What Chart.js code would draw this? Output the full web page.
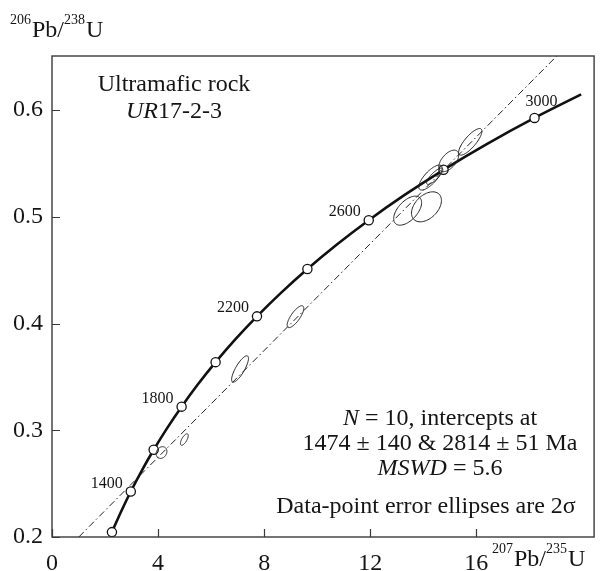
<!DOCTYPE html>
<html>
<head>
<meta charset="utf-8">
<script src="https://cdn.jsdelivr.net/npm/chart.js@4/dist/chart.umd.min.js"></script>
<style>
  html, body { margin: 0; padding: 0; background: #fff; }
  #wrap { width: 600px; height: 571px; position: relative; }
</style>
</head>
<body>
<div id="wrap"><canvas id="c"></canvas></div>
<script>
// ---- Data ----
// Concordia curve (207Pb/235U, 206Pb/238U), 1200 - ~3090 Ma in 100 Ma steps
const concordiaX = [2.260, 2.598, 2.970, 3.381, 3.834, 4.335, 4.887, 5.496, 6.169, 6.910, 7.729, 8.633, 9.630, 10.730, 11.943, 13.283, 14.762, 16.393, 18.194, 19.950];
const concordiaY = [0.2046, 0.2234, 0.2426, 0.2620, 0.2817, 0.3018, 0.3221, 0.3428, 0.3638, 0.3851, 0.4067, 0.4287, 0.4511, 0.4738, 0.4968, 0.5202, 0.5440, 0.5681, 0.5926, 0.6146];
// Age markers on the concordia (every 200 Ma, 1200 - 3000 Ma)
const markerAges = [1200, 1400, 1600, 1800, 2000, 2200, 2400, 2600, 2800, 3000];
const markerX = [2.260, 2.970, 3.834, 4.887, 6.169, 7.729, 9.630, 11.943, 14.762, 18.194];
const markerY = [0.2046, 0.2426, 0.2817, 0.3221, 0.3638, 0.4067, 0.4511, 0.4968, 0.5440, 0.5926];
const labeledAges = ['1400', '1800', '2200', '2600', '3000'];
// Discordia line end points
const discordiaX = [1.01, 19.03];
const discordiaY = [0.200, 0.6505];
// Data-point error ellipses: centre, 2-sigma half widths and error correlation
const ellX   = [4.13, 4.99, 7.09, 9.18, 13.41, 14.12, 14.27, 14.43, 14.96, 15.77];
const ellY   = [0.2791, 0.2913, 0.3574, 0.4064, 0.5057, 0.5093, 0.5367, 0.5380, 0.5523, 0.5702];
const ellSX  = [0.203, 0.147, 0.318, 0.313, 0.527, 0.564, 0.440, 0.307, 0.376, 0.440];
const ellSY  = [0.0055, 0.0054, 0.01235, 0.01027, 0.0136, 0.01406, 0.0117, 0.00765, 0.0101, 0.01247];
const ellRho = [0.20, 0.69, 0.80, 0.77, 0.55, 0.42, 0.75, 0.82, 0.55, 0.80];
// Axis ticks
const xTicks = [0, 4, 8, 12, 16];
const yTicks = [0.2, 0.3, 0.4, 0.5, 0.6];
const xLimits = [0, 20.44];
const yLimits = [0.2, 0.6506];

const SERIF = '"Liberation Serif", "Times New Roman", serif';
const INK = '#151515';

function pts(xs, ys) { return xs.map((x, i) => ({ x: x, y: ys[i] })); }

function drawRich(ctx, segs, cx, y, size, align) {
  let total = 0;
  segs.forEach(s => {
    ctx.font = (s.italic ? 'italic ' : '') + size + 'px ' + SERIF;
    s.w = ctx.measureText(s.t).width; total += s.w;
  });
  let x = align === 'left' ? cx : cx - total / 2;
  segs.forEach(s => {
    ctx.font = (s.italic ? 'italic ' : '') + size + 'px ' + SERIF;
    ctx.fillText(s.t, x, y); x += s.w;
  });
}

function drawIsotope(ctx, parts, x, y) {
  // parts: [sup, main, sup, main]
  let cx = x;
  parts.forEach(p => {
    ctx.font = p.sup ? ('14px ' + SERIF) : ('24px ' + SERIF);
    ctx.fillText(p.t, cx, p.sup ? y - 13 : y);
    cx += ctx.measureText(p.t).width + (p.sup ? 1 : 0);
  });
}

const decorPlugin = {
  id: 'decor',
  afterDatasetsDraw(chart) {
    const ctx = chart.ctx, xs = chart.scales.x, ys = chart.scales.y;
    const a = chart.chartArea;
    ctx.save();
    // error ellipses
    ctx.strokeStyle = '#222';
    ctx.lineWidth = 1;
    for (let i = 0; i < ellX.length; i++) {
      const r = ellRho[i], q = Math.sqrt(1 - r * r);
      ctx.beginPath();
      for (let k = 0; k <= 72; k++) {
        const t = k / 72 * Math.PI * 2;
        const dx = ellSX[i] * Math.cos(t);
        const dy = ellSY[i] * (r * Math.cos(t) + q * Math.sin(t));
        const px = xs.getPixelForValue(ellX[i] + dx);
        const py = ys.getPixelForValue(ellY[i] + dy);
        if (k === 0) ctx.moveTo(px, py); else ctx.lineTo(px, py);
      }
      ctx.closePath();
      ctx.stroke();
    }
    ctx.restore();
  },
  afterDraw(chart) {
    const ctx = chart.ctx, xs = chart.scales.x, ys = chart.scales.y;
    const a = chart.chartArea;
    ctx.save();
    // frame
    ctx.strokeStyle = '#3a3a3a';
    ctx.lineWidth = 1.4;
    ctx.strokeRect(a.left, a.top, a.right - a.left, a.bottom - a.top);
    // inner ticks
    ctx.beginPath();
    xTicks.forEach(v => {
      const px = Math.round(xs.getPixelForValue(v)) + 0.5;
      ctx.moveTo(px, a.bottom); ctx.lineTo(px, a.bottom - 8);
    });
    yTicks.forEach(v => {
      const py = Math.round(ys.getPixelForValue(v)) + 0.5;
      ctx.moveTo(a.left, py); ctx.lineTo(a.left + 8, py);
    });
    ctx.lineWidth = 1.2;
    ctx.stroke();

    ctx.fillStyle = INK;
    ctx.textBaseline = 'alphabetic';
    // age labels
    ctx.font = '16px ' + SERIF;
    ctx.textAlign = 'center';
    labeledAges.forEach(lbl => {
      const i = markerAges.indexOf(Number(lbl));
      const px = xs.getPixelForValue(markerX[i]);
      const py = ys.getPixelForValue(markerY[i]);
      if (lbl === '3000') ctx.fillText(lbl, px + 7, py - 12);
      else ctx.fillText(lbl, px - 24, py - 4);
    });
    ctx.textAlign = 'left';
    // sample title
    drawRich(ctx, [{ t: 'Ultramafic rock' }], 174, 91, 24);
    drawRich(ctx, [{ t: 'UR', italic: true }, { t: '17-2-3' }], 174, 118, 24);
    // statistics
    drawRich(ctx, [{ t: 'N', italic: true }, { t: ' = 10, intercepts at' }], 440, 425, 24);
    drawRich(ctx, [{ t: '1474 \u00B1 140 & 2814 \u00B1 51 Ma' }], 440, 450, 24);
    drawRich(ctx, [{ t: 'MSWD', italic: true }, { t: ' = 5.6' }], 440, 475, 24);
    drawRich(ctx, [{ t: 'Data-point error ellipses are 2\u03C3' }], 426, 513, 24);
    // axis titles
    drawIsotope(ctx, [{ t: '206', sup: true }, { t: 'Pb/' }, { t: '238', sup: true }, { t: 'U' }], 10, 37);
    drawIsotope(ctx, [{ t: '207', sup: true }, { t: 'Pb/' }, { t: '235', sup: true }, { t: 'U' }], 492, 566);
    ctx.restore();
  }
};

new Chart(document.getElementById('c'), {
  type: 'scatter',
  data: {
    datasets: [
      {
        label: 'Discordia',
        type: 'line',
        data: pts(discordiaX, discordiaY),
        borderColor: '#222',
        borderWidth: 1,
        borderDash: [7, 3, 1.5, 3],
        pointRadius: 0,
        fill: false,
        order: 3
      },
      {
        label: 'Concordia',
        type: 'line',
        data: pts(concordiaX, concordiaY),
        borderColor: '#111',
        borderWidth: 2.6,
        pointRadius: 0,
        cubicInterpolationMode: 'monotone',
        fill: false,
        order: 2
      },
      {
        label: 'Age markers',
        data: pts(markerX, markerY),
        pointRadius: 4.6,
        pointBackgroundColor: '#fff',
        pointBorderColor: '#111',
        pointBorderWidth: 1.3,
        order: 1
      }
    ]
  },
  options: {
    responsive: true,
    maintainAspectRatio: false,
    animation: false,
    layout: { padding: { top: 56, right: 4, left: 0, bottom: 0 } },
    plugins: { legend: { display: false }, tooltip: { enabled: false } },
    scales: {
      x: {
        type: 'linear',
        min: xLimits[0], max: xLimits[1],
        afterBuildTicks: s => { s.ticks = xTicks.map(v => ({ value: v })); },
        afterFit: s => { s.height = 34; },
        grid: { display: false, drawTicks: false },
        border: { display: false },
        ticks: {
          font: { family: SERIF, size: 24 }, color: INK, padding: 12,
          maxRotation: 0, autoSkip: false,
          callback: v => String(v)
        }
      },
      y: {
        type: 'linear',
        min: yLimits[0], max: yLimits[1],
        afterBuildTicks: s => { s.ticks = yTicks.map(v => ({ value: v })); },
        afterFit: s => { s.width = 52; },
        grid: { display: false, drawTicks: false },
        border: { display: false },
        ticks: {
          font: { family: SERIF, size: 24 }, color: INK, padding: 9,
          autoSkip: false,
          callback: v => v.toFixed(1)
        }
      }
    }
  },
  plugins: [decorPlugin]
});
</script>
</body>
</html>
